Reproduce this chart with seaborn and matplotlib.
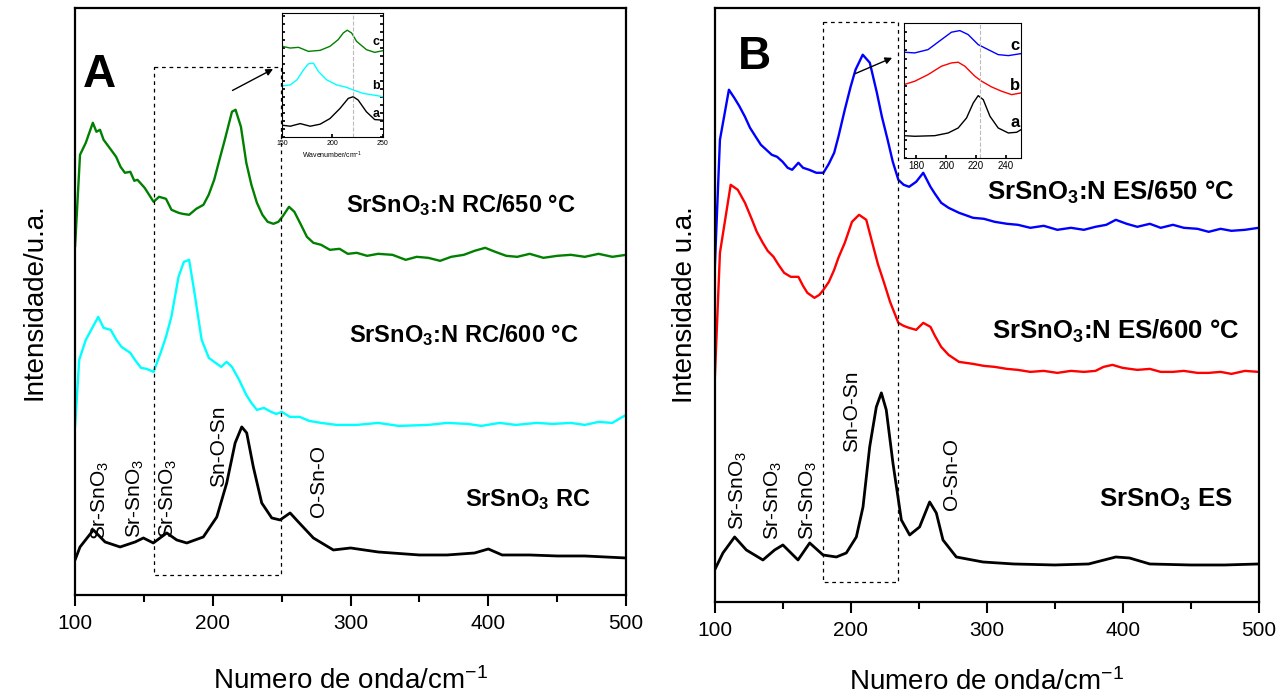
import matplotlib
matplotlib.use("Agg")
import matplotlib.pyplot as plt
import seaborn as sns
import numpy as np

sns.set_theme(style="ticks")
plt.rcParams['font.family'] = ['Liberation Sans', 'DejaVu Sans']
plt.rcParams['mathtext.fontset'] = 'custom'
plt.rcParams['mathtext.rm'] = 'Liberation Sans'
plt.rcParams['mathtext.bf'] = 'Liberation Sans:bold'
plt.rcParams['mathtext.it'] = 'Liberation Sans:italic'
plt.rcParams['axes.unicode_minus'] = False
for k in ['text.color', 'axes.labelcolor', 'xtick.color', 'ytick.color', 'axes.edgecolor']:
    plt.rcParams[k] = 'black'

# ---------------- Panel A data (wavenumber, intensity a.u.) ----------------
a650_x = [100, 103.6, 107.8, 112.9, 115.5, 118.1, 120.7, 125, 129.8, 133, 136.2, 140.1, 143, 145.3, 150.5, 157, 161, 166,
          170, 175.1, 178, 182.8, 188, 193.2, 197, 201, 205, 208.7, 213.9, 216.5, 220.4, 224.3, 228, 232, 236,
          239.8, 244, 247.6, 251, 255.3, 259.2, 264, 268.3, 273, 278.6, 285, 292, 298, 304.5, 312, 320, 330.4,
          340, 348, 356.3, 365, 373, 382.2, 390, 397.7, 405, 413, 421, 430, 440, 450, 459.9, 470, 480, 490, 500]
a650_y = [348, 440, 452, 472, 463, 465, 455, 447, 438, 428, 422, 423, 414, 415, 407, 393, 398, 396,
          385, 382, 381, 380, 386, 390, 400, 415, 436, 455, 483, 485, 468, 432, 410, 392, 380,
          373, 371, 373, 379, 388, 383, 370, 358, 352, 350, 345, 346, 341, 342, 339, 341, 340,
          335, 338, 337, 334, 338, 340, 344, 347, 343, 339, 338, 341, 337, 339, 340, 338, 341, 338, 340]

a600_x = [100, 103, 107.8, 112.9, 116.8, 120.7, 125.9, 130, 133.7, 140.1, 144, 147.9, 152, 157, 162.1, 166, 169.9,
          175.1, 179, 182.8, 186.7, 191.9, 197.1, 202, 206.1, 210, 213.9, 219.1, 224.3, 228, 232, 237, 242.4,
          246, 250.2, 256, 263.1, 270, 278.6, 290, 304.5, 320, 335, 356.3, 370, 385, 395, 408.1, 420, 435,
          447, 459.9, 470, 480, 490, 496.1, 500]
a600_y = [168, 235, 255, 268, 278, 267, 265, 255, 248, 242, 234, 227, 226, 223, 242, 258, 278,
          318, 333, 335, 302, 255, 237, 232, 228, 233, 228, 215, 200, 192, 185, 187, 183,
          181, 183, 178, 178, 174, 172, 170, 170, 172, 169, 170, 172, 171, 169, 172, 170, 172,
          171, 172, 170, 173, 172, 177, 180]

arc_x = [100, 103.6, 113.3, 121.8, 132.7, 143.6, 149.6, 156.8, 161.7, 166.6, 173.8, 181.1, 193.1, 202.9,
         210.1, 216.2, 221, 224.6, 229.4, 235.5, 242.8, 248.8, 256.1, 262.1, 273, 287.5, 300, 320, 350,
         370, 390, 400, 410, 430, 450, 470, 500]
arc_y = [35, 48, 65, 53, 48, 53, 57, 52, 57, 62, 55, 52, 58, 78,
         112, 152, 168, 162, 128, 92, 77, 75, 82, 73, 57, 45, 47, 43, 40,
         40, 42, 46, 40, 40, 39, 39, 37]

# Inset A (150-250 cm-1)
ia_a_x = [150, 158.2, 168, 177.9, 187.7, 197.5, 207.4, 215.6, 220.5, 225.4, 233.6, 241.8, 250]
ia_a_y = [11.7, 10.7, 13.3, 10.7, 12.7, 18.3, 28.3, 38.3, 40, 36.7, 25, 17.3, 16.7]
ia_b_x = [150, 158.2, 164.8, 171.3, 176.2, 181.1, 186.1, 194.3, 204.1, 213.9, 220.5, 230.3, 240.2, 250]
ia_b_y = [50.7, 51.7, 56.7, 66.7, 72.7, 73.3, 65, 56.7, 51.7, 49.3, 46.7, 43.3, 41.7, 40]
ia_c_x = [150, 158.2, 166.4, 176.2, 187.7, 197.5, 205.7, 210.7, 214.6, 218.9, 223.8, 233.6, 241.8, 250]
ia_c_y = [90, 88.3, 89, 85, 86, 90, 96.7, 103.3, 106, 103.3, 95, 86.7, 84, 85.7]

# ---------------- Panel B data ----------------
b650_x = [100, 103.9, 110.5, 114.4, 118, 122.3, 126, 130.2, 134, 138, 142, 145.9, 150, 153.7, 157, 161.6, 165,
          169.5, 174.8, 180, 184, 187.9, 191, 195.7, 200, 203.6, 208.9, 214.1, 219.3, 223, 227.2, 231, 235.1,
          239, 243, 248.2, 253.4, 258.7, 262, 266.6, 272, 279.7, 290, 298, 305.9, 315, 323, 332.1, 342, 352,
          362, 371.5, 380, 388, 395, 403, 410.8, 420, 428, 437, 445, 455, 463.3, 472, 480, 490, 500]
b650_y = [330, 462, 512, 504, 496, 485, 474, 465, 457, 452, 447, 445, 440, 434, 432, 439, 434,
          432, 429, 429, 438, 449, 465, 492, 515, 532, 547, 539, 509, 485, 462, 440, 422,
          417, 415, 420, 429, 415, 408, 399, 394, 389, 384, 383, 380, 378, 377, 374, 376, 372,
          374, 372, 375, 377, 382, 378, 375, 378, 374, 377, 374, 373, 370, 373, 371, 372, 374]

b600_x = [100, 103.9, 111.8, 117, 122.3, 127.5, 131, 135.4, 139, 143.3, 147, 151.1, 156, 161.6, 165, 168.2, 173.4,
          177, 180, 184, 187.9, 191, 195.7, 201, 206.2, 211.5, 216.7, 220, 224.6, 229, 235.1, 239, 243,
          248.2, 253.4, 258.7, 262, 266.6, 272, 279.7, 290, 298, 305.9, 315, 323, 332.1, 342, 352, 362,
          371.5, 380, 386, 392.5, 400, 410.8, 420, 428, 437, 445, 455, 463.3, 472, 480, 490, 500]
b600_y = [219, 349, 417, 412, 399, 382, 370, 359, 351, 345, 337, 329, 325, 325, 316, 309, 304,
          307, 312, 320, 332, 344, 359, 380, 387, 382, 355, 338, 319, 300, 279, 276, 274,
          272, 279, 275, 266, 255, 247, 240, 238, 236, 235, 233, 232, 230, 231, 229, 231,
          230, 231, 235, 237, 234, 232, 233, 230, 230, 231, 229, 229, 230, 228, 231, 230]

bes_x = [100, 106.1, 114.7, 123.3, 135.5, 144.1, 150.2, 161.3, 169.9, 179.7, 189.5, 196.8, 204.2, 209.1,
         214, 218.9, 222.6, 226.2, 231.1, 237.3, 243.4, 250.7, 258.1, 263, 267.9, 277.7, 297.3,
         320, 350, 375, 395, 405, 420, 450, 475, 500]
bes_y = [32, 49, 65, 52, 42, 52, 57, 42, 59, 47, 45, 49, 65, 95,
         155, 195, 209, 192, 139, 82, 67, 75, 100, 89, 62, 45, 40,
         38, 37, 38, 45, 44, 38, 37, 37, 38]

# Inset B (172-250 cm-1)
ib_a_x = [171.7, 178.9, 192.3, 201.3, 208, 213.6, 218.1, 221.4, 224.8, 229.3, 234.8, 241.6, 247.2, 250.1]
ib_a_y = [22.3, 21.7, 22.3, 25, 30, 40, 55, 62.3, 58.3, 41.7, 30, 25, 25.7, 28.3]
ib_b_x = [171.7, 178.9, 187.8, 196.8, 203.5, 208, 212.5, 219.2, 223.7, 230.4, 237.1, 243.8, 250.1]
ib_b_y = [73.3, 76.7, 83.3, 91.7, 95, 95.7, 91.7, 81.7, 76.7, 71, 66.7, 63.3, 65]
ib_c_x = [171.7, 178.9, 187.8, 196.8, 203.5, 209.1, 214.7, 221.4, 228.1, 234.8, 241.6, 250.1]
ib_c_y = [105.7, 105, 108.3, 118.3, 125.7, 127.3, 123.3, 113.3, 108.3, 103.3, 102.3, 104.3]

x_ticks = [100, 200, 300, 400, 500]

GREEN = '#008000'
CYAN = '#00ffff'
BLUE = '#0000ff'
RED = '#ff0000'

fig = plt.figure(figsize=(12.83, 7.0), dpi=100)
axA = fig.add_axes([0.0585, 0.15, 0.4295, 0.839])
axB = fig.add_axes([0.557, 0.14, 0.424, 0.849])


def style_main(ax, ylim):
    ax.set_xlim(100, 500)
    ax.set_ylim(*ylim)
    ax.set_xticks(x_ticks)
    ax.set_xticks([150, 250, 350, 450], minor=True)
    ax.set_yticks([])
    ax.tick_params(axis='x', which='major', direction='out', length=8, width=1.5,
                   labelsize=15, pad=6, top=False)
    ax.tick_params(axis='x', which='minor', direction='out', length=5, width=1.5, top=False)
    for s in ax.spines.values():
        s.set_linewidth(1.6)
        s.set_color('black')
        s.set_visible(True)


def draw(ax, x, y, color, lw=1.7):
    sns.lineplot(x=x, y=y, ax=ax, color=color, lw=lw, sort=False, estimator=None)


# ---------- Panel A ----------
draw(axA, a650_x, a650_y, GREEN)
draw(axA, a600_x, a600_y, CYAN)
draw(axA, arc_x, arc_y, 'black', lw=2.0)
style_main(axA, (0, 587))
axA.set_xlabel('Numero de onda/cm$^{-1}$', fontsize=20, labelpad=24)
axA.set_ylabel('Intensidade/u.a.', fontsize=20, labelpad=20)

axA.plot([157, 249.6, 249.6, 157, 157], [528, 528, 20, 20, 528], ls=(0, (3, 3)), color='black', lw=0.9)
axA.annotate('', xy=(245.5, 527), xytext=(212.5, 503),
             arrowprops=dict(arrowstyle='-|>', color='black', lw=1.0, mutation_scale=10))
axA.text(106, 520, 'A', fontsize=33, fontweight='bold', ha='left', va='center')

tk = dict(fontsize=17, fontweight='bold', ha='center', va='center')
tkB = dict(fontsize=18.5, fontweight='bold', ha='center', va='center')
axA.text(380, 390, r'SrSnO$_\mathbf{3}$:N RC/650 °C', **tk)
axA.text(382, 260, r'SrSnO$_\mathbf{3}$:N RC/600 °C', **tk)
axA.text(429, 95, r'SrSnO$_\mathbf{3}$ RC', **tk)

rk = dict(fontsize=15, rotation=90, ha='center', va='bottom')
axA.text(118, 55, 'Sr-SnO$_3$', **rk)
axA.text(143.6, 57, 'Sr-SnO$_3$', **rk)
axA.text(167.7, 57, 'Sr-SnO$_3$', **rk)
axA.text(203.8, 108, 'Sn-O-Sn', **rk)
axA.text(276.4, 78, 'O-Sn-O', **rk)

# Inset A
inA = fig.add_axes([0.2198, 0.8043, 0.0787, 0.177])
draw(inA, ia_a_x, ia_a_y, 'black', lw=1.0)
draw(inA, ia_b_x, ia_b_y, CYAN, lw=1.0)
draw(inA, ia_c_x, ia_c_y, GREEN, lw=1.0)
inA.axvline(220.5, color='#bbbbbb', ls='--', lw=0.8)
inA.set_xlim(150, 250)
inA.set_ylim(0, 123)
inA.set_xticks([150, 200, 250])
inA.set_yticks(np.arange(0, 123, 8))
inA.set_yticklabels([])
inA.tick_params(axis='x', labelsize=5, length=2, direction='in', pad=2)
inA.tick_params(axis='y', length=2, direction='in', left=True, right=True)
inA.set_xlabel('Wavenumber/cm$^{-1}$', fontsize=5, labelpad=2)
for s in inA.spines.values():
    s.set_linewidth(0.8)
inA.text(243, 17, 'a', fontsize=9, fontweight='bold', ha='center', va='bottom')
inA.text(243, 45, 'b', fontsize=9, fontweight='bold', ha='center', va='bottom')
inA.text(243, 88, 'c', fontsize=9, fontweight='bold', ha='center', va='bottom')

# ---------- Panel B ----------
draw(axB, b650_x, b650_y, BLUE)
draw(axB, b600_x, b600_y, RED)
draw(axB, bes_x, bes_y, 'black', lw=2.0)
style_main(axB, (0, 594))
axB.set_xlabel('Numero de onda/cm$^{-1}$', fontsize=20, labelpad=20)
axB.set_ylabel('Intensidade u.a.', fontsize=20, labelpad=12)

axB.plot([180, 234.6, 234.6, 180, 180], [580, 580, 20, 20, 580], ls=(0, (3, 3)), color='black', lw=0.9)
axB.annotate('', xy=(232.4, 545), xytext=(201.5, 527),
             arrowprops=dict(arrowstyle='-|>', color='black', lw=1.0, mutation_scale=10))
axB.text(117, 545, 'B', fontsize=33, fontweight='bold', ha='left', va='center')

axB.text(391, 409, r'SrSnO$_\mathbf{3}$:N ES/650 °C', **tkB)
axB.text(395, 270, r'SrSnO$_\mathbf{3}$:N ES/600 °C', **tkB)
axB.text(432, 102, r'SrSnO$_\mathbf{3}$ ES', **tkB)

axB.text(117.1, 72, 'Sr-SnO$_3$', **rk)
axB.text(142.9, 62, 'Sr-SnO$_3$', **rk)
axB.text(168.6, 62, 'Sr-SnO$_3$', **rk)
axB.text(200.5, 150, 'Sn-O-Sn', **rk)
axB.text(274, 92, 'O-Sn-O', **rk)

# Inset B
inB = fig.add_axes([0.7046, 0.7743, 0.0912, 0.193])
draw(inB, ib_a_x, ib_a_y, 'black', lw=1.0)
draw(inB, ib_b_x, ib_b_y, RED, lw=1.0)
draw(inB, ib_c_x, ib_c_y, BLUE, lw=1.0)
inB.axvline(222.4, color='#bbbbbb', ls='--', lw=0.8)
inB.set_xlim(171.7, 250.1)
inB.set_ylim(0, 135)
inB.set_xticks([180, 200, 220, 240])
inB.set_yticks(np.arange(0, 135, 9))
inB.set_yticklabels([])
inB.tick_params(axis='x', labelsize=7, length=2, direction='in', pad=2)
inB.tick_params(axis='y', length=2, direction='in', left=True, right=False)
for s in inB.spines.values():
    s.set_linewidth(0.8)
inB.text(246, 28, 'a', fontsize=12, fontweight='bold', ha='center', va='bottom')
inB.text(246, 65, 'b', fontsize=12, fontweight='bold', ha='center', va='bottom')
inB.text(246, 105, 'c', fontsize=12, fontweight='bold', ha='center', va='bottom')

fig.savefig('out.png', dpi=100)
